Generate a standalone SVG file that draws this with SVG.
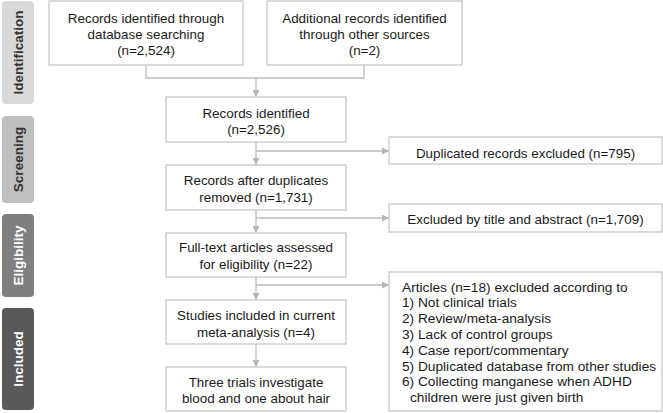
<svg xmlns="http://www.w3.org/2000/svg" width="663" height="413" viewBox="0 0 663 413">
<style>
.bg{fill:#ffffff}
.box{fill:#ffffff;stroke:#c4c4c4;stroke-width:1.2}
.t{font-family:"Liberation Sans",Arial,sans-serif;font-size:13.4px;fill:#1a1a1a}
.l{font-size:13.7px}
.c{text-anchor:middle}
.side{font-family:"Liberation Sans",Arial,sans-serif;font-size:13.5px;font-weight:bold;text-anchor:middle}
.ln{fill:none;stroke:#bdbdbd;stroke-width:1.3}
</style>
<defs>
<marker id="ah" viewBox="0 0 10 10" refX="10" refY="5" markerWidth="7" markerHeight="7" markerUnits="userSpaceOnUse" orient="auto">
<path d="M0,0 L10,5 L0,10 z" fill="#b5b5b5"/>
</marker>
</defs>
<rect class="bg" x="0" y="0" width="663" height="413"/>
<g id="stages">
<g id="stage-identification"><rect x="2" y="1" width="32" height="103" rx="4" fill="#d9d9d9"/><text class="side" fill="#333333" transform="translate(22.5,52.5) rotate(-90)">Identification</text></g>
<g id="stage-screening"><rect x="2" y="116" width="32" height="87" rx="4" fill="#bfbfbf"/><text class="side" fill="#333333" transform="translate(22.5,159.5) rotate(-90)">Screening</text></g>
<g id="stage-eligibility"><rect x="2" y="214" width="32" height="83" rx="4" fill="#7f7f7f"/><text class="side" fill="#ffffff" transform="translate(22.5,255.5) rotate(-90)">Eligibility</text></g>
<g id="stage-included"><rect x="2" y="308" width="32" height="102" rx="4" fill="#595959"/><text class="side" fill="#ffffff" transform="translate(22.5,359) rotate(-90)">Included</text></g>
</g>
<g id="connectors">
<path class="ln" d="M146,65 V78 H364 V65"/>
<path class="ln" d="M256,78 V97" marker-end="url(#ah)"/>
<path class="ln" d="M256,142 V165" marker-end="url(#ah)"/>
<path class="ln" d="M256,151 H389" marker-end="url(#ah)"/>
<path class="ln" d="M256,210 V233" marker-end="url(#ah)"/>
<path class="ln" d="M256,218 H389" marker-end="url(#ah)"/>
<path class="ln" d="M256,277 V300" marker-end="url(#ah)"/>
<path class="ln" d="M256,285 H389" marker-end="url(#ah)"/>
<path class="ln" d="M256,344 V367" marker-end="url(#ah)"/>
</g>
<g id="n-db"><rect class="box" x="49" y="1" width="194" height="64"/>
<text class="t c" x="146" y="22.5">Records identified through</text>
<text class="t c" x="146" y="38.5">database searching</text>
<text class="t c" x="146" y="54.5">(n=2,524)</text></g>
<g id="n-other"><rect class="box" x="267" y="1" width="195" height="64"/>
<text class="t c" x="364.5" y="22.5">Additional records identified</text>
<text class="t c" x="364.5" y="38.5">through other sources</text>
<text class="t c" x="364.5" y="54.5">(n=2)</text></g>
<g id="n-identified"><rect class="box" x="166" y="97" width="180" height="45"/>
<text class="t c" x="256" y="117.5">Records identified</text>
<text class="t c" x="256" y="133.5">(n=2,526)</text></g>
<g id="n-dup"><rect class="box" x="389" y="137" width="273" height="27"/>
<text class="t c" x="525.5" y="157.5">Duplicated records excluded (n=795)</text></g>
<g id="n-after"><rect class="box" x="166" y="165" width="180" height="45"/>
<text class="t c" x="256" y="184.5">Records after duplicates</text>
<text class="t c" x="256" y="201.5">removed (n=1,731)</text></g>
<g id="n-title"><rect class="box" x="389" y="204" width="273" height="28"/>
<text class="t c" x="525.5" y="223.5">Excluded by title and abstract (n=1,709)</text></g>
<g id="n-fulltext"><rect class="box" x="166" y="233" width="180" height="44"/>
<text class="t c" x="256" y="251.5">Full-text articles assessed</text>
<text class="t c" x="256" y="268.5">for eligibility (n=22)</text></g>
<g id="n-articles"><rect class="box" x="389" y="272" width="273" height="139"/>
<text class="t l" x="402" y="291.5">Articles (n=18) excluded according to</text>
<text class="t l" x="402" y="307.3">1) Not clinical trials</text>
<text class="t l" x="402" y="323.1">2) Review/meta-analysis</text>
<text class="t l" x="402" y="338.9">3) Lack of control groups</text>
<text class="t l" x="402" y="354.7">4) Case report/commentary</text>
<text class="t l" x="402" y="370.5">5) Duplicated database from other studies</text>
<text class="t l" x="402" y="386.3">6) Collecting manganese when ADHD</text>
<text class="t l" x="410" y="402.1">children were just given birth</text></g>
<g id="n-studies"><rect class="box" x="166" y="300" width="180" height="44"/>
<text class="t c" x="256" y="319.5">Studies included in current</text>
<text class="t c" x="256" y="336.5">meta-analysis (n=4)</text></g>
<g id="n-trials"><rect class="box" x="166" y="367" width="180" height="44"/>
<text class="t c" x="256" y="386.5">Three trials investigate</text>
<text class="t c" x="256" y="402.5">blood and one about hair</text></g>
</svg>
